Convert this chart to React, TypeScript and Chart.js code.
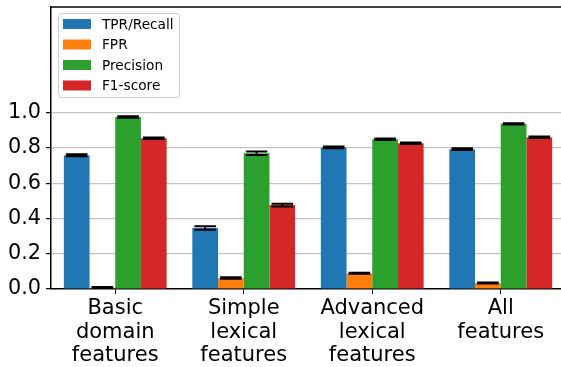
import React, { useEffect, useRef } from "react";
import { Chart, registerables } from "chart.js";

Chart.register(...registerables);

const categories: string[][] = [
  ["Basic", "domain", "features"],
  ["Simple", "lexical", "features"],
  ["Advanced", "lexical", "features"],
  ["All", "features"],
];
const seriesNames = ["TPR/Recall", "FPR", "Precision", "F1-score"];
const seriesColors = ["#1f77b4", "#ff7f0e", "#2ca02c", "#d62728"];

const tprValues = [0.759, 0.346, 0.803, 0.793];
const fprValues = [0.008, 0.062, 0.089, 0.034];
const precisionValues = [0.976, 0.77, 0.85, 0.937];
const f1Values = [0.855, 0.476, 0.827, 0.861];

const tprErrors = [0.006, 0.01, 0.005, 0.005];
const fprErrors = [0.003, 0.004, 0.003, 0.003];
const precisionErrors = [0.004, 0.01, 0.004, 0.004];
const f1Errors = [0.004, 0.008, 0.004, 0.004];

const yTickMax = 1.0;
const yAxisMax = 1.6;

const allValues = [tprValues, fprValues, precisionValues, f1Values];
const allErrors = [tprErrors, fprErrors, precisionErrors, f1Errors];

const FONT = "'DejaVu Sans', sans-serif";

const errorBarPlugin = {
  id: "errorBars",
  afterDatasetsDraw(chart: any) {
    const ctx = chart.ctx;
    const yScale = chart.scales.y;
    ctx.save();
    ctx.strokeStyle = "#000";
    ctx.lineWidth = 2;
    chart.data.datasets.forEach((ds: any, di: number) => {
      const meta = chart.getDatasetMeta(di);
      const errs = allErrors[di];
      meta.data.forEach((el: any, i: number) => {
        const v = ds.data[i];
        const e = errs[i];
        const yTop = yScale.getPixelForValue(v + e);
        const yBot = yScale.getPixelForValue(v - e);
        const hw = el.width * 0.42;
        ctx.beginPath();
        ctx.moveTo(el.x, yTop);
        ctx.lineTo(el.x, yBot);
        ctx.moveTo(el.x - hw, yTop);
        ctx.lineTo(el.x + hw, yTop);
        ctx.moveTo(el.x - hw, yBot);
        ctx.lineTo(el.x + hw, yBot);
        ctx.stroke();
      });
    });
    ctx.restore();
  },
};

const framePlugin = {
  id: "frame",
  afterDraw(chart: any) {
    const ctx = chart.ctx;
    const a = chart.chartArea;
    ctx.save();
    ctx.strokeStyle = "#000";
    ctx.lineWidth = 1.5;
    ctx.beginPath();
    ctx.moveTo(a.left, a.top);
    ctx.lineTo(a.right + 2, a.top);
    ctx.stroke();

    // legend
    const bx = 58.5, by = 13.5, bw = 121, bh = 84;
    ctx.fillStyle = "rgba(255,255,255,0.8)";
    ctx.strokeStyle = "#cccccc";
    ctx.lineWidth = 1;
    ctx.beginPath();
    const r = 3;
    ctx.moveTo(bx + r, by);
    ctx.lineTo(bx + bw - r, by);
    ctx.quadraticCurveTo(bx + bw, by, bx + bw, by + r);
    ctx.lineTo(bx + bw, by + bh - r);
    ctx.quadraticCurveTo(bx + bw, by + bh, bx + bw - r, by + bh);
    ctx.lineTo(bx + r, by + bh);
    ctx.quadraticCurveTo(bx, by + bh, bx, by + bh - r);
    ctx.lineTo(bx, by + r);
    ctx.quadraticCurveTo(bx, by, bx + r, by);
    ctx.closePath();
    ctx.fill();
    ctx.stroke();
    ctx.font = "13.7px " + FONT;
    ctx.textBaseline = "middle";
    ctx.textAlign = "left";
    seriesNames.forEach((name, i) => {
      const cy = 24 + i * 20.5;
      ctx.fillStyle = seriesColors[i];
      ctx.fillRect(63, cy - 5, 28, 10);
      ctx.fillStyle = "#000";
      ctx.fillText(name, 102, cy + 1);
    });
    ctx.restore();
  },
};

export default function App() {
  const ref = useRef<HTMLCanvasElement | null>(null);
  useEffect(() => {
    if (!ref.current) return;
    const chart = new Chart(ref.current, {
      type: "bar",
      data: {
        labels: categories as any,
        datasets: seriesNames.map((name, i) => ({
          label: name,
          data: allValues[i],
          backgroundColor: seriesColors[i],
          borderWidth: 0,
          categoryPercentage: 0.8,
          barPercentage: 1.0,
        })),
      },
      options: {
        animation: false,
        responsive: false,
        maintainAspectRatio: false,
        layout: { padding: { top: 7, right: 0, left: 0, bottom: 0 } },
        plugins: {
          legend: { display: false },
          tooltip: { enabled: false },
          title: { display: false },
        },
        scales: {
          x: {
            type: "category",
            offset: true,
            grid: {
              offset: false,
              drawOnChartArea: false,
              color: "#000",
              tickColor: "#000",
              tickLength: 5,
              tickWidth: 1,
            },
            border: { display: true, color: "#000", width: 1.5 },
            ticks: {
              color: "#000",
              font: { family: FONT, size: 21, lineHeight: "23.5px" },
              padding: 3,
              maxRotation: 0,
              autoSkip: false,
            },
            afterFit(scale: any) {
              scale.height = 78;
              scale.paddingLeft = 0;
              scale.paddingRight = 0;
            },
          },
          y: {
            min: 0,
            max: yAxisMax,
            z: 1,
            grid: {
              color: (c: any) =>
                c.tick && c.tick.value <= yTickMax + 1e-6 && c.tick.value > 0
                  ? "rgba(170,170,170,0.7)"
                  : "rgba(0,0,0,0)",
              tickColor: (c: any) =>
                c.tick && c.tick.value <= yTickMax + 1e-6 ? "#000" : "rgba(0,0,0,0)",
              tickLength: 5,
              lineWidth: 1.2,
            },
            border: { display: true, color: "#000", width: 1.5 },
            ticks: {
              stepSize: 0.2,
              color: "#000",
              font: { family: FONT, size: 20.8 },
              padding: 5,
              callback: (v: any) => (Number(v) <= yTickMax + 1e-6 ? Number(v).toFixed(1) : ""),
            },
            afterFit(scale: any) {
              scale.width = 51;
              scale.paddingTop = 0;
              scale.paddingBottom = 0;
            },
          },
        },
      },
      plugins: [errorBarPlugin, framePlugin],
    });
    return () => chart.destroy();
  }, []);
  return (
    <div
      style={{
        position: "fixed",
        left: 0,
        top: 0,
        width: 561,
        height: 367,
        overflow: "hidden",
        background: "#fff",
      }}
    >
      <canvas ref={ref} width={565} height={367} style={{ display: "block" }} />
    </div>
  );
}
